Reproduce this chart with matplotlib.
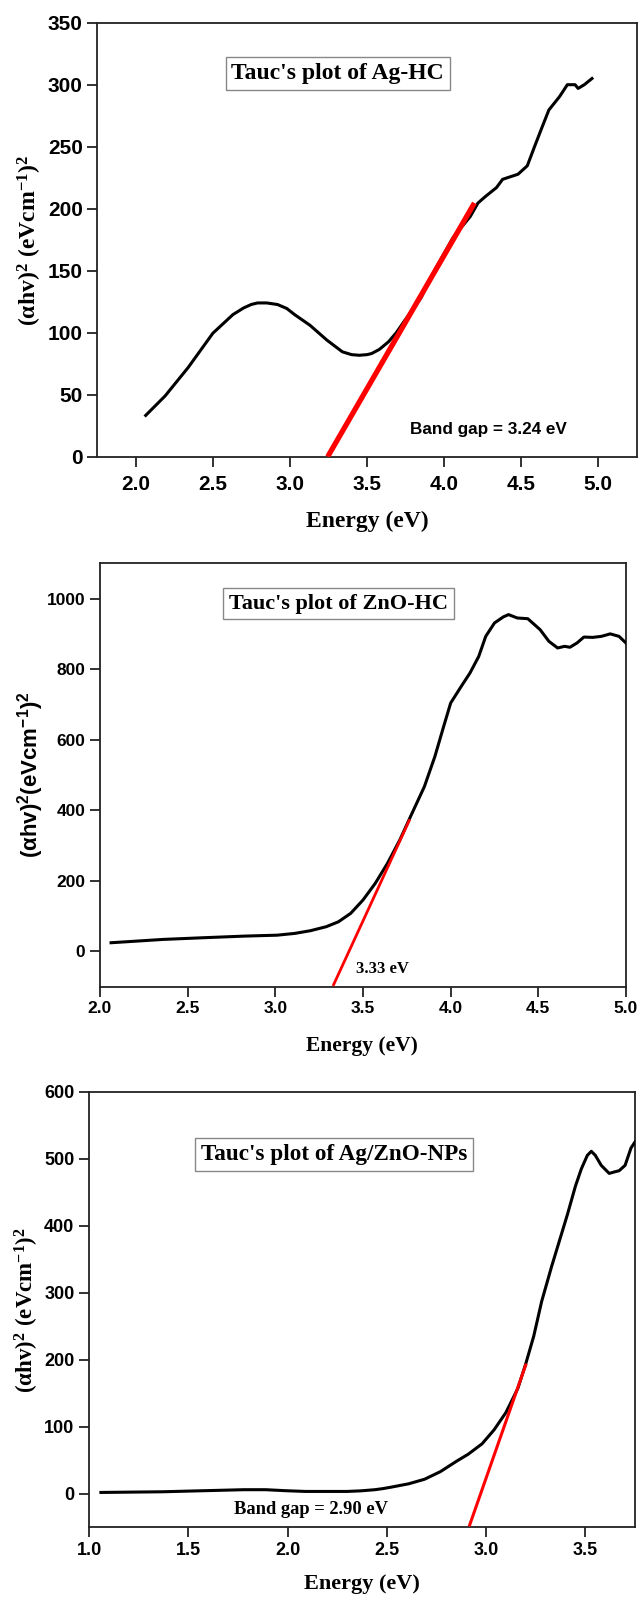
import matplotlib
matplotlib.use("Agg")
import matplotlib.pyplot as plt

plt.rcParams['mathtext.fontset'] = 'custom'
plt.rcParams['mathtext.rm'] = 'Liberation Serif:bold'
plt.rcParams['mathtext.it'] = 'Liberation Serif:bold'
plt.rcParams['mathtext.bf'] = 'Liberation Serif:bold'
plt.rcParams['mathtext.sf'] = 'Liberation Sans:bold'

# ---------------- data ----------------
ag_x = [2.064, 2.19, 2.34, 2.50, 2.63, 2.70, 2.75, 2.79, 2.85, 2.92, 2.98, 3.03, 3.13, 3.24,
        3.34, 3.40, 3.45, 3.50, 3.53, 3.58, 3.64, 3.69,
        3.74, 3.85, 3.95, 4.06, 4.17, 4.22, 4.27, 4.34, 4.38, 4.48, 4.54, 4.59, 4.64, 4.68,
        4.75, 4.80, 4.85, 4.87, 4.91, 4.96]
ag_y = [33.3, 49, 72, 99.6, 114.6, 120, 122.8, 124, 124, 122.7, 119.5, 114.6, 106, 94,
        84.6, 82.3, 81.8, 82.3, 83.2, 86.5, 92.7, 100,
        109, 128, 152.8, 177, 193.7, 204.6, 210, 217, 223.7, 227.8, 234.6, 251, 267, 279.6,
        290.5, 300, 300, 297, 300, 305]
ag_fit_x = [3.245, 4.197]
ag_fit_y = [0, 204.6]

zno_x = [2.063, 2.36, 2.59, 2.83, 3.01, 3.11, 3.20, 3.29, 3.36, 3.43, 3.50, 3.57, 3.64, 3.71,
         3.78, 3.85, 3.91, 3.96, 4.00, 4.06, 4.11, 4.16, 4.20, 4.25, 4.30, 4.33, 4.38, 4.44,
         4.51, 4.56, 4.61, 4.65, 4.68, 4.72, 4.76, 4.81, 4.86, 4.91, 4.96, 5.0]
zno_y = [24.6, 34, 38.8, 43.5, 46, 51, 58.7, 70, 84, 108, 145.7, 193, 250, 316,
         392, 467, 552.5, 637.6, 704, 751, 789, 836, 893, 931, 948, 954.6, 945, 943,
         912, 879, 860, 864.7, 862, 874, 891, 890, 893, 900, 893, 874]
zno_fit_x = [3.329, 3.767]
zno_fit_y = [-98, 374.6]

agzno_x = [1.06, 1.37, 1.58, 1.78, 1.89, 1.99, 2.09, 2.30, 2.37, 2.44, 2.48, 2.52, 2.61, 2.69,
           2.77, 2.85, 2.91, 2.98, 3.04, 3.10, 3.16, 3.20, 3.24, 3.28, 3.33, 3.37, 3.41, 3.45,
           3.48, 3.51, 3.53, 3.55, 3.58, 3.62, 3.65, 3.67, 3.70, 3.73, 3.75]
agzno_y = [1.6, 2.6, 4.2, 5.7, 5.7, 4.2, 3.1, 3.1, 4.0, 5.7, 7.3, 9.4, 14.5, 21.3,
           32.7, 48, 58.7, 74.3, 95, 121, 157, 194, 235, 287, 339, 378, 417, 459,
           485, 505, 511, 505, 490, 478, 480.5, 482, 490, 516, 525]
agzno_fit_x = [2.915, 3.202]
agzno_fit_y = [-49, 194]

titles = ["Tauc's plot of Ag-HC", "Tauc's plot of ZnO-HC", "Tauc's plot of Ag/ZnO-NPs"]
gap_texts = ["Band gap = 3.24 eV", "3.33 eV", "Band gap = 2.90 eV"]

W, H = 640, 1601
fig = plt.figure(figsize=(W / 100, H / 100), dpi=100)

def axes_px(l, t, r, b):
    return fig.add_axes([l / W, 1 - b / H, (r - l) / W, (b - t) / H])

SANS = 'Liberation Sans'
SERIF = 'Liberation Serif'

def style(ax, tick_fs, ticklen):
    for s in ax.spines.values():
        s.set_linewidth(1.3)
        s.set_color('#222222')
    ax.tick_params(direction='out', length=ticklen, width=1.3, color='#222222')
    for lab in ax.get_xticklabels() + ax.get_yticklabels():
        lab.set_fontfamily(SANS)
        lab.set_fontweight('bold')
        lab.set_fontsize(tick_fs)

box = dict(boxstyle='square,pad=0.25', facecolor='white', edgecolor='#888888', linewidth=1.0)

# ---------------- panel 1 ----------------
ax1 = axes_px(97.3, 22.7, 636.7, 456.7)
ax1.plot(ag_x, ag_y, color='black', lw=2.2, zorder=3)
ax1.plot(ag_fit_x, ag_fit_y, color='#ff0000', lw=3.8, zorder=4, solid_capstyle='butt')
ax1.set_xlim(1.75, 5.25)
ax1.set_ylim(0, 350)
ax1.set_xticks([2.0, 2.5, 3.0, 3.5, 4.0, 4.5, 5.0])
ax1.set_yticks(range(0, 351, 50))
ax1.set_xticklabels(['2.0', '2.5', '3.0', '3.5', '4.0', '4.5', '5.0'])
style(ax1, 15, 7)
ax1.tick_params(axis='x', pad=6)
ax1.text(3.31, 309, titles[0], fontfamily=SERIF, fontweight='bold', fontsize=17,
         ha='center', va='center', bbox=box)
ax1.text(4.29, 22, gap_texts[0], fontfamily=SANS, fontweight='bold', fontsize=12.3,
         ha='center', va='center')
fig.text(367 / W, 1 - 521 / H, 'Energy (eV)', fontfamily=SERIF, fontweight='bold',
         fontsize=17, ha='center', va='center')
fig.text(30 / W, 1 - 240 / H, r'$\mathbf{(\alpha hv)^2\ (eVcm^{-1})^2}$', fontsize=17,
         rotation=90, ha='center', va='center')

# ---------------- panel 2 ----------------
ax2 = axes_px(100, 563.3, 626, 986.7)
ax2.plot(zno_x, zno_y, color='black', lw=2.2, zorder=3)
ax2.plot(zno_fit_x, zno_fit_y, color='#ff0000', lw=2.0, zorder=4, solid_capstyle='butt')
ax2.set_xlim(2.0, 5.0)
ax2.set_ylim(-100, 1100)
ax2.set_xticks([2.0, 2.5, 3.0, 3.5, 4.0, 4.5, 5.0])
ax2.set_xticklabels(['2.0', '2.5', '3.0', '3.5', '4.0', '4.5', '5.0'])
ax2.set_yticks(range(0, 1001, 200))
style(ax2, 12.5, 7)
ax2.text(3.36, 985, titles[1], fontfamily=SERIF, fontweight='bold', fontsize=16,
         ha='center', va='center', bbox=box)
ax2.text(3.61, -50, gap_texts[1], fontfamily=SERIF, fontweight='bold', fontsize=12,
         ha='center', va='center')
fig.text(362 / W, 1 - 1046 / H, 'Energy (eV)', fontfamily=SERIF, fontweight='bold',
         fontsize=15.5, ha='center', va='center')
fig.text(31 / W, 1 - 775 / H, r'$\mathsf{(\alpha hv)^{2}(eVcm^{-1})^{2}}$', fontsize=16,
         rotation=90, ha='center', va='center')

# ---------------- panel 3 ----------------
ax3 = axes_px(89, 1091.7, 635, 1527)
ax3.plot(agzno_x, agzno_y, color='black', lw=2.2, zorder=3)
ax3.plot(agzno_fit_x, agzno_fit_y, color='#ff0000', lw=2.2, zorder=4, solid_capstyle='butt')
ax3.set_xlim(1.0, 3.75)
ax3.set_ylim(-50, 600)
ax3.set_xticks([1.0, 1.5, 2.0, 2.5, 3.0, 3.5])
ax3.set_xticklabels(['1.0', '1.5', '2.0', '2.5', '3.0', '3.5'])
ax3.set_yticks(range(0, 601, 100))
style(ax3, 13, 7)
ax3.text(2.236, 506, titles[2], fontfamily=SERIF, fontweight='bold', fontsize=16.7,
         ha='center', va='center', bbox=box)
ax3.text(2.12, -23.4, gap_texts[2], fontfamily=SERIF, fontweight='bold', fontsize=13.3,
         ha='center', va='center')
fig.text(362 / W, 1 - 1584 / H, 'Energy (eV)', fontfamily=SERIF, fontweight='bold',
         fontsize=16, ha='center', va='center')
fig.text(26.5 / W, 1 - 1310 / H, r'$\mathbf{(\alpha hv)^2\ (eVcm^{-1})^2}$', fontsize=16.5,
         rotation=90, ha='center', va='center')

fig.savefig('out.png', dpi=100, facecolor='white')
